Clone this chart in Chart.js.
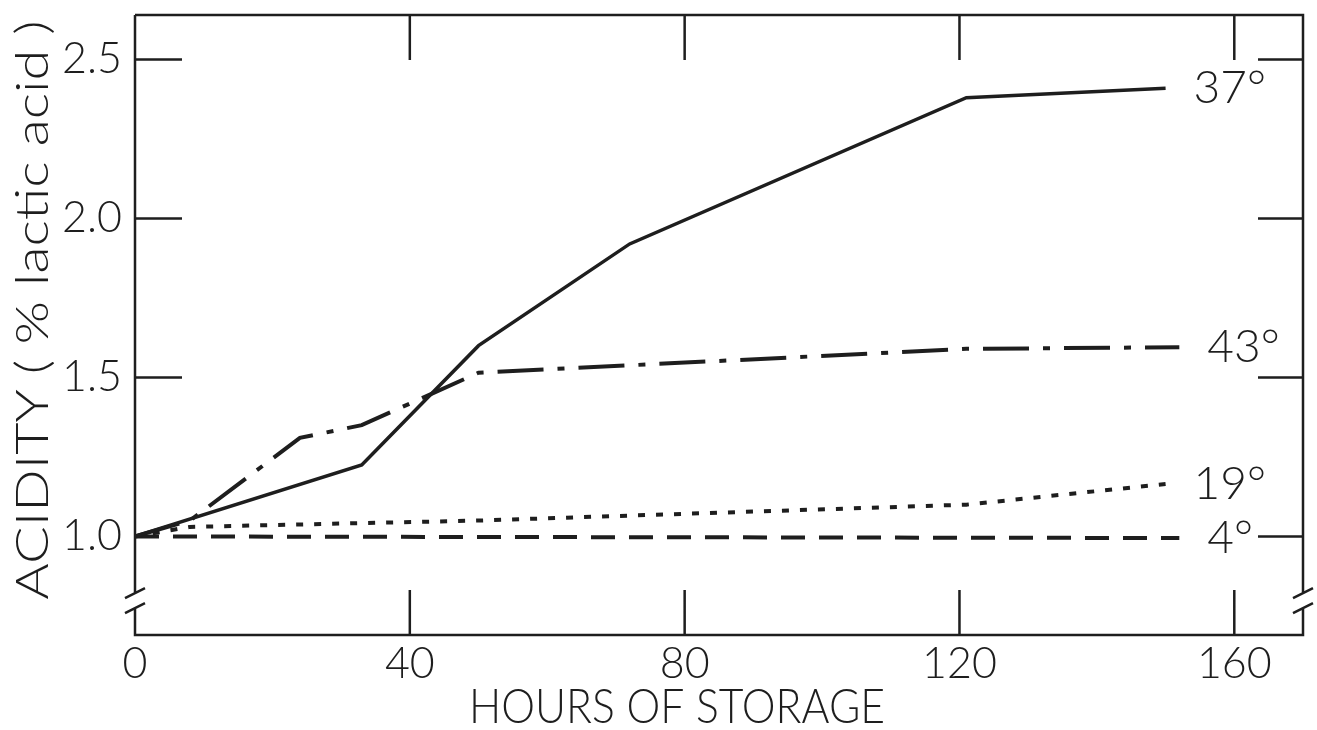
<!DOCTYPE html>
<html>
<head>
  <meta charset="utf-8">
  <script src="https://cdn.jsdelivr.net/npm/chart.js"></script>
  <style>
    body { margin: 0; background: #fff; }
  </style>
</head>
<body>
  <canvas id="acidityChart" width="1317" height="730"></canvas>
  <script>
    // acidity of stored samples at four temperatures
    const seriesNames = ['37°', '43°', '19°', '4°'];
    const hours37 = [0, 33, 50, 72, 121, 150];
    const acid37 = [1.0, 1.225, 1.60, 1.92, 2.38, 2.41];
    const hours43 = [0, 8, 24, 33, 50, 121, 152];
    const acid43 = [1.0, 1.05, 1.31, 1.35, 1.515, 1.59, 1.595];
    const hours19 = [0, 8, 50, 121, 150];
    const acid19 = [1.0, 1.03, 1.05, 1.10, 1.165];
    const hours4 = [0, 152];
    const acid4 = [1.0, 0.995];
    const xTicks = [0, 40, 80, 120, 160];
    const yTicks = [1.0, 1.5, 2.0, 2.5];
    const yBreak = 0.8;

    const ink = '#1e1e1e';
    const family = 'Lato, "DejaVu Sans", sans-serif';

    function points(xs, ys) {
      return xs.map((v, i) => ({ x: v, y: ys[i] }));
    }

    // draws text squeezed or stretched along its own direction
    function stretchedText(ctx, text, cx, cy, angle, sx, font) {
      ctx.save();
      ctx.translate(cx, cy);
      ctx.rotate(angle);
      ctx.scale(sx, 1);
      ctx.font = font;
      ctx.textAlign = 'center';
      ctx.textBaseline = 'middle';
      ctx.fillText(text, 0, 0);
      ctx.restore();
    }

    // box frame with inward ticks, axis breaks, curve labels and titles
    const framePlugin = {
      id: 'frame',
      afterDatasetsDraw(chart) {
        const { ctx, chartArea: a, scales: { x, y } } = chart;
        const yb = y.getPixelForValue(yBreak);
        ctx.save();
        ctx.strokeStyle = ink;
        ctx.lineWidth = 2.5;
        ctx.beginPath();
        ctx.moveTo(a.left, a.top);
        ctx.lineTo(a.left, yb - 7);
        ctx.moveTo(a.left, yb + 8);
        ctx.lineTo(a.left, a.bottom);
        ctx.lineTo(a.right, a.bottom);
        ctx.lineTo(a.right, yb + 8);
        ctx.moveTo(a.right, yb - 7);
        ctx.lineTo(a.right, a.top);
        ctx.lineTo(a.left, a.top);
        [a.left, a.right].forEach(cx => {
          [-7, 8].forEach(d => {
            ctx.moveTo(cx - 10, yb + d + 5);
            ctx.lineTo(cx + 10, yb + d - 5);
          });
        });
        xTicks.filter(v => v > 0).forEach(v => {
          const px = x.getPixelForValue(v);
          ctx.moveTo(px, a.top);
          ctx.lineTo(px, a.top + 45);
          ctx.moveTo(px, a.bottom);
          ctx.lineTo(px, a.bottom - 45);
        });
        yTicks.forEach(v => {
          const py = y.getPixelForValue(v);
          if (v > 1) {
            ctx.moveTo(a.left, py);
            ctx.lineTo(a.left + 47, py);
          }
          ctx.moveTo(a.right - 45, py);
          ctx.lineTo(a.right, py);
        });
        ctx.stroke();

        ctx.fillStyle = ink;
        ctx.textBaseline = 'middle';
        ctx.textAlign = 'left';
        ctx.font = '300 46px ' + family;
        chart.data.datasets.forEach((ds, i) => {
          const meta = chart.getDatasetMeta(i);
          const last = meta.data[meta.data.length - 1];
          ctx.fillText(seriesNames[i], last.x + 28, last.y);
        });

        stretchedText(ctx, 'HOURS OF STORAGE', 677, 708, 0, 0.89, '300 48px ' + family);
        stretchedText(ctx, 'ACIDITY ( % lactic acid )', 33, 310, -Math.PI / 2, 1.24, '300 45px ' + family);
        ctx.restore();
      }
    };

    const tickFont = { family: family, size: 43, weight: 300, lineHeight: 1 };

    new Chart(document.getElementById('acidityChart'), {
      type: 'line',
      data: {
        datasets: [
          { label: seriesNames[0], data: points(hours37, acid37), borderDash: [], borderWidth: 3.5 },
          { label: seriesNames[1], data: points(hours43, acid43), borderDash: [46, 14, 7, 14], borderWidth: 4 },
          { label: seriesNames[2], data: points(hours19, acid19), borderDash: [7, 11], borderWidth: 4 },
          { label: seriesNames[3], data: points(hours4, acid4), borderDash: [24, 14], borderWidth: 4 }
        ].map(ds => Object.assign(ds, {
          borderColor: ink,
          pointRadius: 0,
          tension: 0,
          fill: false
        }))
      },
      options: {
        responsive: false,
        animation: false,
        devicePixelRatio: 1,
        layout: { padding: { top: 15, right: 14, left: 0, bottom: 0 } },
        plugins: { legend: { display: false }, tooltip: { enabled: false } },
        scales: {
          x: {
            type: 'linear',
            min: 0,
            max: 170,
            grid: { display: false, drawTicks: false },
            border: { display: false },
            afterBuildTicks: s => { s.ticks = xTicks.map(v => ({ value: v })); },
            afterFit: s => { s.height = 95; s.paddingLeft = 0; s.paddingRight = 0; },
            ticks: { color: ink, font: tickFont, padding: 8, maxRotation: 0 }
          },
          y: {
            min: 0.69,
            max: 2.64,
            grid: { display: false, drawTicks: false },
            border: { display: false },
            afterBuildTicks: s => { s.ticks = yTicks.map(v => ({ value: v })); },
            afterFit: s => { s.width = 135; s.paddingTop = 0; s.paddingBottom = 0; },
            ticks: { color: ink, font: tickFont, padding: 13, callback: v => v.toFixed(1) }
          }
        }
      },
      plugins: [framePlugin]
    });
  </script>
</body>
</html>
